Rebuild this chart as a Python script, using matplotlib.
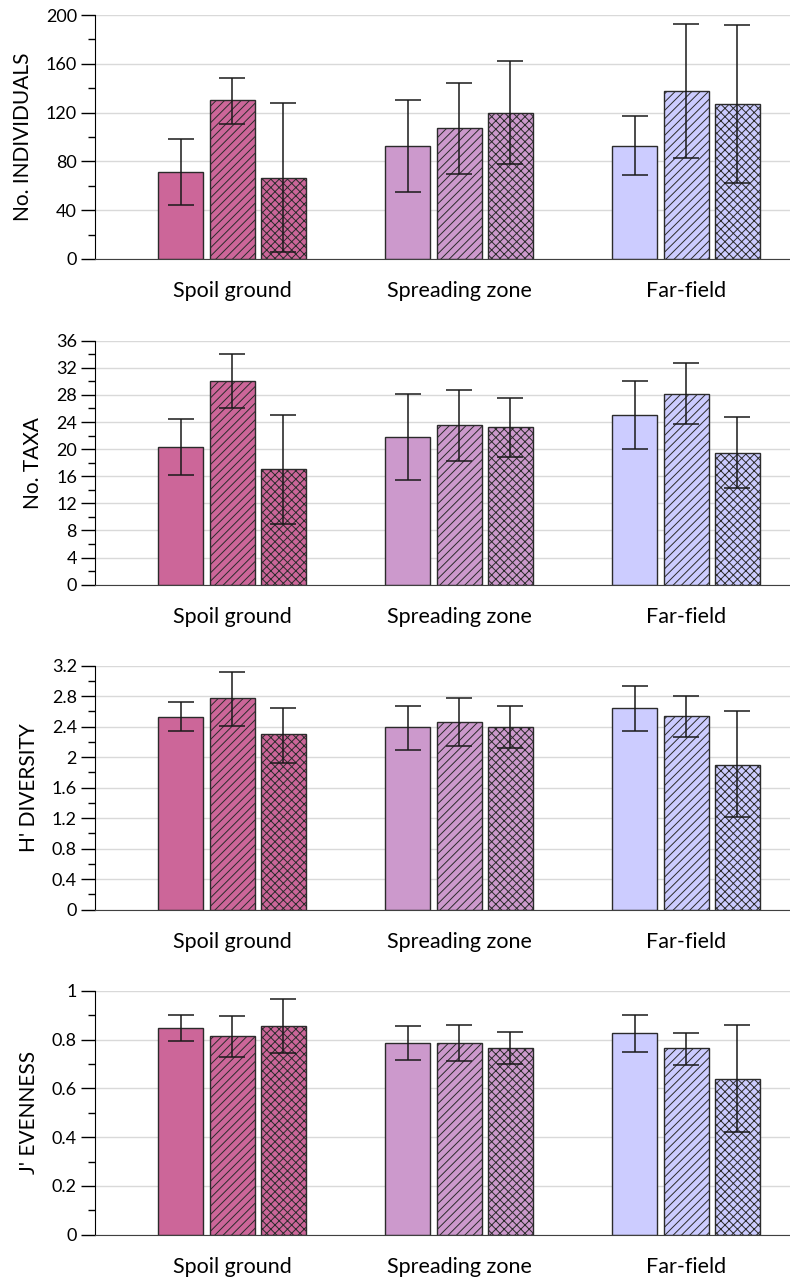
import matplotlib.pyplot as plt
import numpy as np
from matplotlib.ticker import MultipleLocator

plt.rcParams['font.family'] = ['Lato', 'DejaVu Sans']
plt.rcParams['hatch.linewidth'] = 0.7

sites = ['Spoil ground', 'Spreading zone', 'Far-field']
colors = ['#CC6699', '#CC99CC', '#CCCCFF']
hatches = ['', '////', 'xxxx']

# means for the 3 bars in each site group, and the error bar ends (upper, lower)
ind_mean = [[71, 130, 66.5], [92.6, 107, 120], [93, 138, 127]]
ind_hi = [[98, 148.5, 128], [130, 144, 162], [117, 193, 192]]
ind_lo = [[44, 111, 6], [55, 70, 78], [68.5, 83, 62]]

taxa_mean = [[20.3, 30.0, 17.0], [21.8, 23.5, 23.3], [25.0, 28.2, 19.5]]
taxa_hi = [[24.4, 34.0, 25.0], [28.2, 28.7, 27.6], [30.0, 32.7, 24.7]]
taxa_lo = [[16.2, 26.1, 9.0], [15.4, 18.3, 18.9], [20.0, 23.7, 14.3]]

div_mean = [[2.53, 2.77, 2.30], [2.39, 2.46, 2.40], [2.64, 2.54, 1.90]]
div_hi = [[2.72, 3.12, 2.65], [2.67, 2.78, 2.67], [2.93, 2.80, 2.60]]
div_lo = [[2.34, 2.41, 1.93], [2.10, 2.15, 2.12], [2.35, 2.27, 1.21]]

even_mean = [[0.848, 0.815, 0.855], [0.785, 0.785, 0.765], [0.825, 0.764, 0.639]]
even_hi = [[0.900, 0.895, 0.965], [0.855, 0.860, 0.830], [0.902, 0.828, 0.861]]
even_lo = [[0.795, 0.730, 0.745], [0.715, 0.710, 0.700], [0.749, 0.697, 0.420]]

panels = [
    ('No. INDIVIDUALS', ind_mean, ind_hi, ind_lo, 200, 40, 20),
    ('No. TAXA', taxa_mean, taxa_hi, taxa_lo, 36, 4, 2),
    ("H' DIVERSITY", div_mean, div_hi, div_lo, 3.2, 0.4, 0.2),
    ("J' EVENNESS", even_mean, even_hi, even_lo, 1, 0.2, 0.1),
]

W, H = 790, 1282
fig = plt.figure(figsize=(W / 100, H / 100), dpi=100)
tops = [15, 340.7, 665.7, 990.7]
ph = 244

bw = 0.198
step = 0.226
x = np.arange(len(sites))

for (label, mean, hi, lo, ymax, major, minor), top in zip(panels, tops):
    ax = fig.add_axes([95 / W, 1 - (top + ph) / H, (W - 95) / W, ph / H])
    mean = np.array(mean)
    hi = np.array(hi)
    lo = np.array(lo)
    for j in range(3):
        xs = x + (j - 1) * step
        for i in range(3):
            ax.bar(xs[i], mean[i, j], width=bw, color=colors[i], hatch=hatches[j],
                   edgecolor='#2b2b2b', linewidth=1.0, zorder=2)
        ax.errorbar(xs, mean[:, j], yerr=[mean[:, j] - lo[:, j], hi[:, j] - mean[:, j]],
                    fmt='none', ecolor='#1a1a1a', elinewidth=1.1, capsize=9.5,
                    capthick=1.1, zorder=3)
    ax.set_xlim(-0.604, 2.458)
    ax.set_ylim(0, ymax)
    ax.yaxis.set_major_locator(MultipleLocator(major))
    ax.yaxis.set_minor_locator(MultipleLocator(minor))
    ax.yaxis.grid(True, color='#D9D9D9', linewidth=1.0, zorder=0)
    ax.set_axisbelow(True)
    ax.set_xticks(x)
    ax.set_xticklabels(sites, fontsize=15.5)
    ax.tick_params(axis='x', length=0, pad=16)
    ax.tick_params(axis='y', which='major', length=10, width=1, labelsize=13, pad=3)
    ax.tick_params(axis='y', which='minor', length=5, width=1)
    ax.yaxis.set_major_formatter(plt.FuncFormatter(lambda v, p: ('%g' % round(v, 2))))
    for s in ['top', 'right']:
        ax.spines[s].set_visible(False)
    ax.spines['left'].set_color('black')
    ax.spines['bottom'].set_color('#404040')
    ax.set_ylabel(label, fontsize=15, labelpad=9)

fig.savefig('out.png', dpi=100)
